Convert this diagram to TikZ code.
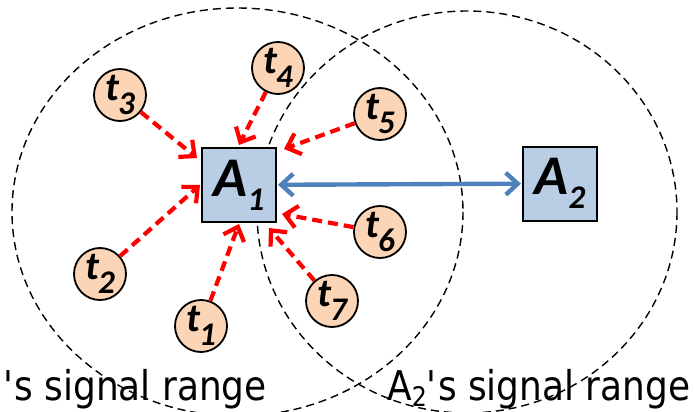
\documentclass[tikz,border=0pt]{standalone}
\usepackage{fontspec}
\newfontfamily\carl{Carlito}
\newfontfamily\tah[FakeStretch=0.876]{DejaVu Sans}
\usetikzlibrary{arrows.meta,calc}
\definecolor{boxblue}{HTML}{B9CDE5}
\definecolor{peach}{HTML}{FBD5B5}
\definecolor{linkblue}{HTML}{4F81BD}
\newcommand{\tlab}[1]{{\carl\bfseries\itshape\fontsize{40}{40}\selectfont t\kern-1pt\raisebox{-14pt}{\fontsize{33}{33}\selectfont #1}}}
\newcommand{\alab}[1]{{\carl\bfseries\itshape\fontsize{56}{56}\selectfont A\raisebox{-14pt}{\fontsize{33}{33}\selectfont #1}}}
\begin{document}
\begin{tikzpicture}[x=1pt,y=-1pt,
  tagnode/.style={circle, draw=black, line width=1.8pt, fill=peach, minimum size=52pt, inner sep=0pt},
  apnode/.style={rectangle, draw=black, line width=2pt, fill=boxblue, minimum size=74pt, inner sep=0pt},
  sigarrow/.style={red, line width=4.2pt, dash pattern=on 10pt off 6pt, -{Straight Barb[length=12pt,width=22pt]}},
  linkarrow/.style={linkblue, line width=4.4pt, {Straight Barb[length=12pt,width=22pt]}-{Straight Barb[length=12pt,width=22pt]}, shorten <=1pt, shorten >=1pt},
  rangeline/.style={black, line width=1.4pt, dash pattern=on 8pt off 5pt},
  captiontext/.style={anchor=base west, inner sep=0pt, font=\tah\fontsize{41}{41}\selectfont}]
\useasboundingbox (0,0) rectangle (694,412);
\clip (0,0) rectangle (694,412);
% signal ranges
\draw[rangeline] (237.5,212) ellipse [x radius=225.5, y radius=204];
\draw[rangeline] (467,212) ellipse [x radius=210, y radius=201];
% access points
\node[apnode] (A1) at (239,185) {\alab{1}};
\node[apnode] (A2) at (560,183.5) {\alab{2}};
% tags
\node[tagnode] (t1) at (201,326) {\tlab{1}};
\node[tagnode] (t2) at (100,274) {\tlab{2}};
\node[tagnode] (t3) at (120,95) {\tlab{3}};
\node[tagnode] (t4) at (278,68) {\tlab{4}};
\node[tagnode] (t5) at (380,114) {\tlab{5}};
\node[tagnode] (t6) at (380,232) {\tlab{6}};
\node[tagnode] (t7) at (332,301) {\tlab{7}};
% arrow tips near A1
\coordinate (e3) at ($(A1.north west)+(-4,11)$);
\coordinate (e4) at ($(A1.north)+(0,-2)$);
\coordinate (e5) at ($(A1.north east)+(7,2)$);
\coordinate (e6) at ($(A1.south east)+(5,-9)$);
\coordinate (e7) at ($(A1.south east)+(-8,5)$);
\coordinate (e1) at ($(A1.south)+(0,1)$);
\coordinate (e2) at ($(A1.west)+(-1,0)$);
\draw[sigarrow] (t1) -- (e1);
\draw[sigarrow] (t2) -- (e2);
\draw[sigarrow] (t3) -- (e3);
\draw[sigarrow] (t4) -- (e4);
\draw[sigarrow] (t5) -- (e5);
\draw[sigarrow] (t6) -- (e6);
\draw[sigarrow] (t7) -- (e7);
% link between access points
\draw[linkarrow] (A1) -- (A2);
% captions
\node[captiontext] (cap1) at (3,400) {\textquotesingle s signal range};
\node[captiontext] (cap2) at (387,400) {A\raisebox{-6pt}{\fontsize{27}{27}\selectfont 2}\textquotesingle s signal range};
\end{tikzpicture}
\end{document}
